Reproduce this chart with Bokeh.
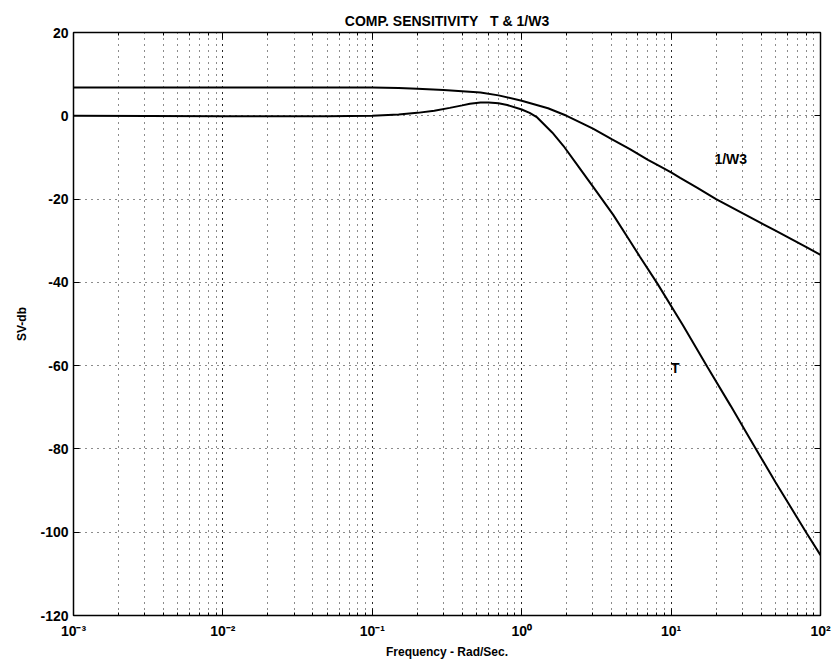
from bokeh.plotting import figure
from bokeh.models import (FixedTicker, LinearAxis, LogAxis, CustomJSTickFormatter,
                          LogTicker, Range1d)
from bokeh.core.properties import value
from bokeh.embed import file_html
from bokeh.resources import INLINE

# ---- data ----
w3_freq = [0.001, 0.01, 0.05, 0.1, 0.15, 0.2, 0.3, 0.53, 0.7, 1.0, 1.5, 2.0, 2.5, 3.0,
           4.0, 5.3, 7.0, 8.5, 10, 11.5, 15, 20, 30, 50, 81, 100]
w3_db = [6.8, 6.8, 6.8, 6.8, 6.7, 6.5, 6.2, 5.6, 4.9, 3.6, 1.8, 0.0, -1.7, -3.1,
         -5.6, -8.0, -10.6, -12.2, -13.6, -14.9, -17.3, -20.0, -23.4, -27.6, -31.6, -33.4]

t_freq = [0.001, 0.01, 0.05, 0.1, 0.15, 0.2, 0.26, 0.33, 0.4, 0.45, 0.53, 0.6, 0.7, 0.8,
          1.0, 1.13, 1.27, 1.6, 1.9, 2.4, 3.0, 4.1, 5.2, 6.2, 8.1, 12, 17.5, 25, 34, 50,
          81, 100]
t_db = [0.0, -0.1, -0.1, 0.0, 0.3, 0.7, 1.2, 1.9, 2.5, 2.9, 3.2, 3.2, 3.0, 2.6,
        1.5, 0.7, -0.4, -4.0, -7.2, -12.2, -17.0, -23.8, -29.6, -33.9, -40.3, -50.3,
        -60.3, -69.6, -77.8, -88.0, -100.3, -105.5]

y_ticks = [-120, -100, -80, -60, -40, -20, 0, 20]
title_text = "COMP. SENSITIVITY\u00a0\u00a0\u00a0T & 1/W3"
x_label = "Frequency - Rad/Sec."
y_label = "SV-db"
curve_labels = ["1/W3", "T"]
label_x = [19.5, 10.0]
label_y = [-10.3, -60.5]

FONT = "Liberation Sans"

p = figure(width=833, height=666, x_axis_type="log",
           x_range=Range1d(1e-3, 1e2), y_range=Range1d(-120, 20),
           output_backend="svg", toolbar_location=None,
           min_border_left=73, min_border_right=13,
           min_border_top=32, min_border_bottom=51)

p.background_fill_color = "white"
p.border_fill_color = "white"
p.outline_line_color = "black"
p.outline_line_width = 1.5

p.title.text = title_text
p.title.align = "center"
p.title.text_font = FONT
p.title.text_font_size = "14px"
p.title.text_font_style = "bold"
p.title.text_color = "black"
p.title.standoff = 8

# grids: dotted black
for g in (p.xgrid, p.ygrid):
    g.grid_line_color = "black"
    g.grid_line_dash = "1 5"
    g.grid_line_width = 1
    g.grid_line_alpha = 0.9
p.xgrid.minor_grid_line_color = "black"
p.xgrid.minor_grid_line_dash = "1 5"
p.xgrid.minor_grid_line_alpha = 0.9
p.ygrid.ticker = FixedTicker(ticks=y_ticks)

xfmt = CustomJSTickFormatter(code="""
const e = Math.round(Math.log10(tick));
const sup = {"-": "\\u207B", "0": "\\u2070", "1": "\\u00B9", "2": "\\u00B2", "3": "\\u00B3"};
return "10" + String(e).split("").map(c => sup[c]).join("");
""")
yfmt = CustomJSTickFormatter(code="return tick.toFixed(0);")
blank = CustomJSTickFormatter(code="return '';")

xa = p.xaxis[0]
xa.formatter = xfmt
xa.axis_label = x_label
ya = p.yaxis[0]
ya.ticker = FixedTicker(ticks=y_ticks)
ya.formatter = yfmt
ya.axis_label = y_label

for ax in (xa, ya):
    ax.axis_line_color = "black"
    ax.major_tick_in = 6
    ax.major_tick_out = 0
    ax.minor_tick_in = 3
    ax.minor_tick_out = 0
    ax.major_tick_line_color = "black"
    ax.minor_tick_line_color = "black"
    ax.major_label_text_font = FONT
    ax.major_label_text_font_style = "bold"
    ax.major_label_text_font_size = "14px"
    ax.major_label_text_color = "black"
    ax.axis_label_text_font = FONT
    ax.axis_label_text_font_style = "bold"
    ax.axis_label_text_font_size = "12px"
    ax.axis_label_text_color = "black"
xa.major_label_standoff = 7
xa.axis_label_standoff = 3
xa.major_label_text_font_size = "14px"
ya.major_label_standoff = 5
ya.axis_label_standoff = 8
ya.minor_tick_in = 0

top = LogAxis(ticker=LogTicker(), formatter=blank, major_tick_in=6, major_tick_out=0,
              minor_tick_in=3, minor_tick_out=0, axis_line_color="black",
              major_label_text_font_size="0px")
right = LinearAxis(ticker=FixedTicker(ticks=y_ticks), formatter=blank, major_tick_in=6,
                   major_tick_out=0, minor_tick_in=0, minor_tick_out=0,
                   axis_line_color="black", major_label_text_font_size="0px")
p.add_layout(top, "above")
p.add_layout(right, "right")

p.line(w3_freq, w3_db, line_color="black", line_width=2)
p.line(t_freq, t_db, line_color="black", line_width=2)

p.text(x=label_x, y=label_y, text=curve_labels, text_font=value(FONT),
       text_font_style="bold", text_font_size="14px", text_color="black",
       text_align="left", text_baseline="middle")

open("out.html", "w", encoding="utf-8").write(file_html(p, INLINE))
